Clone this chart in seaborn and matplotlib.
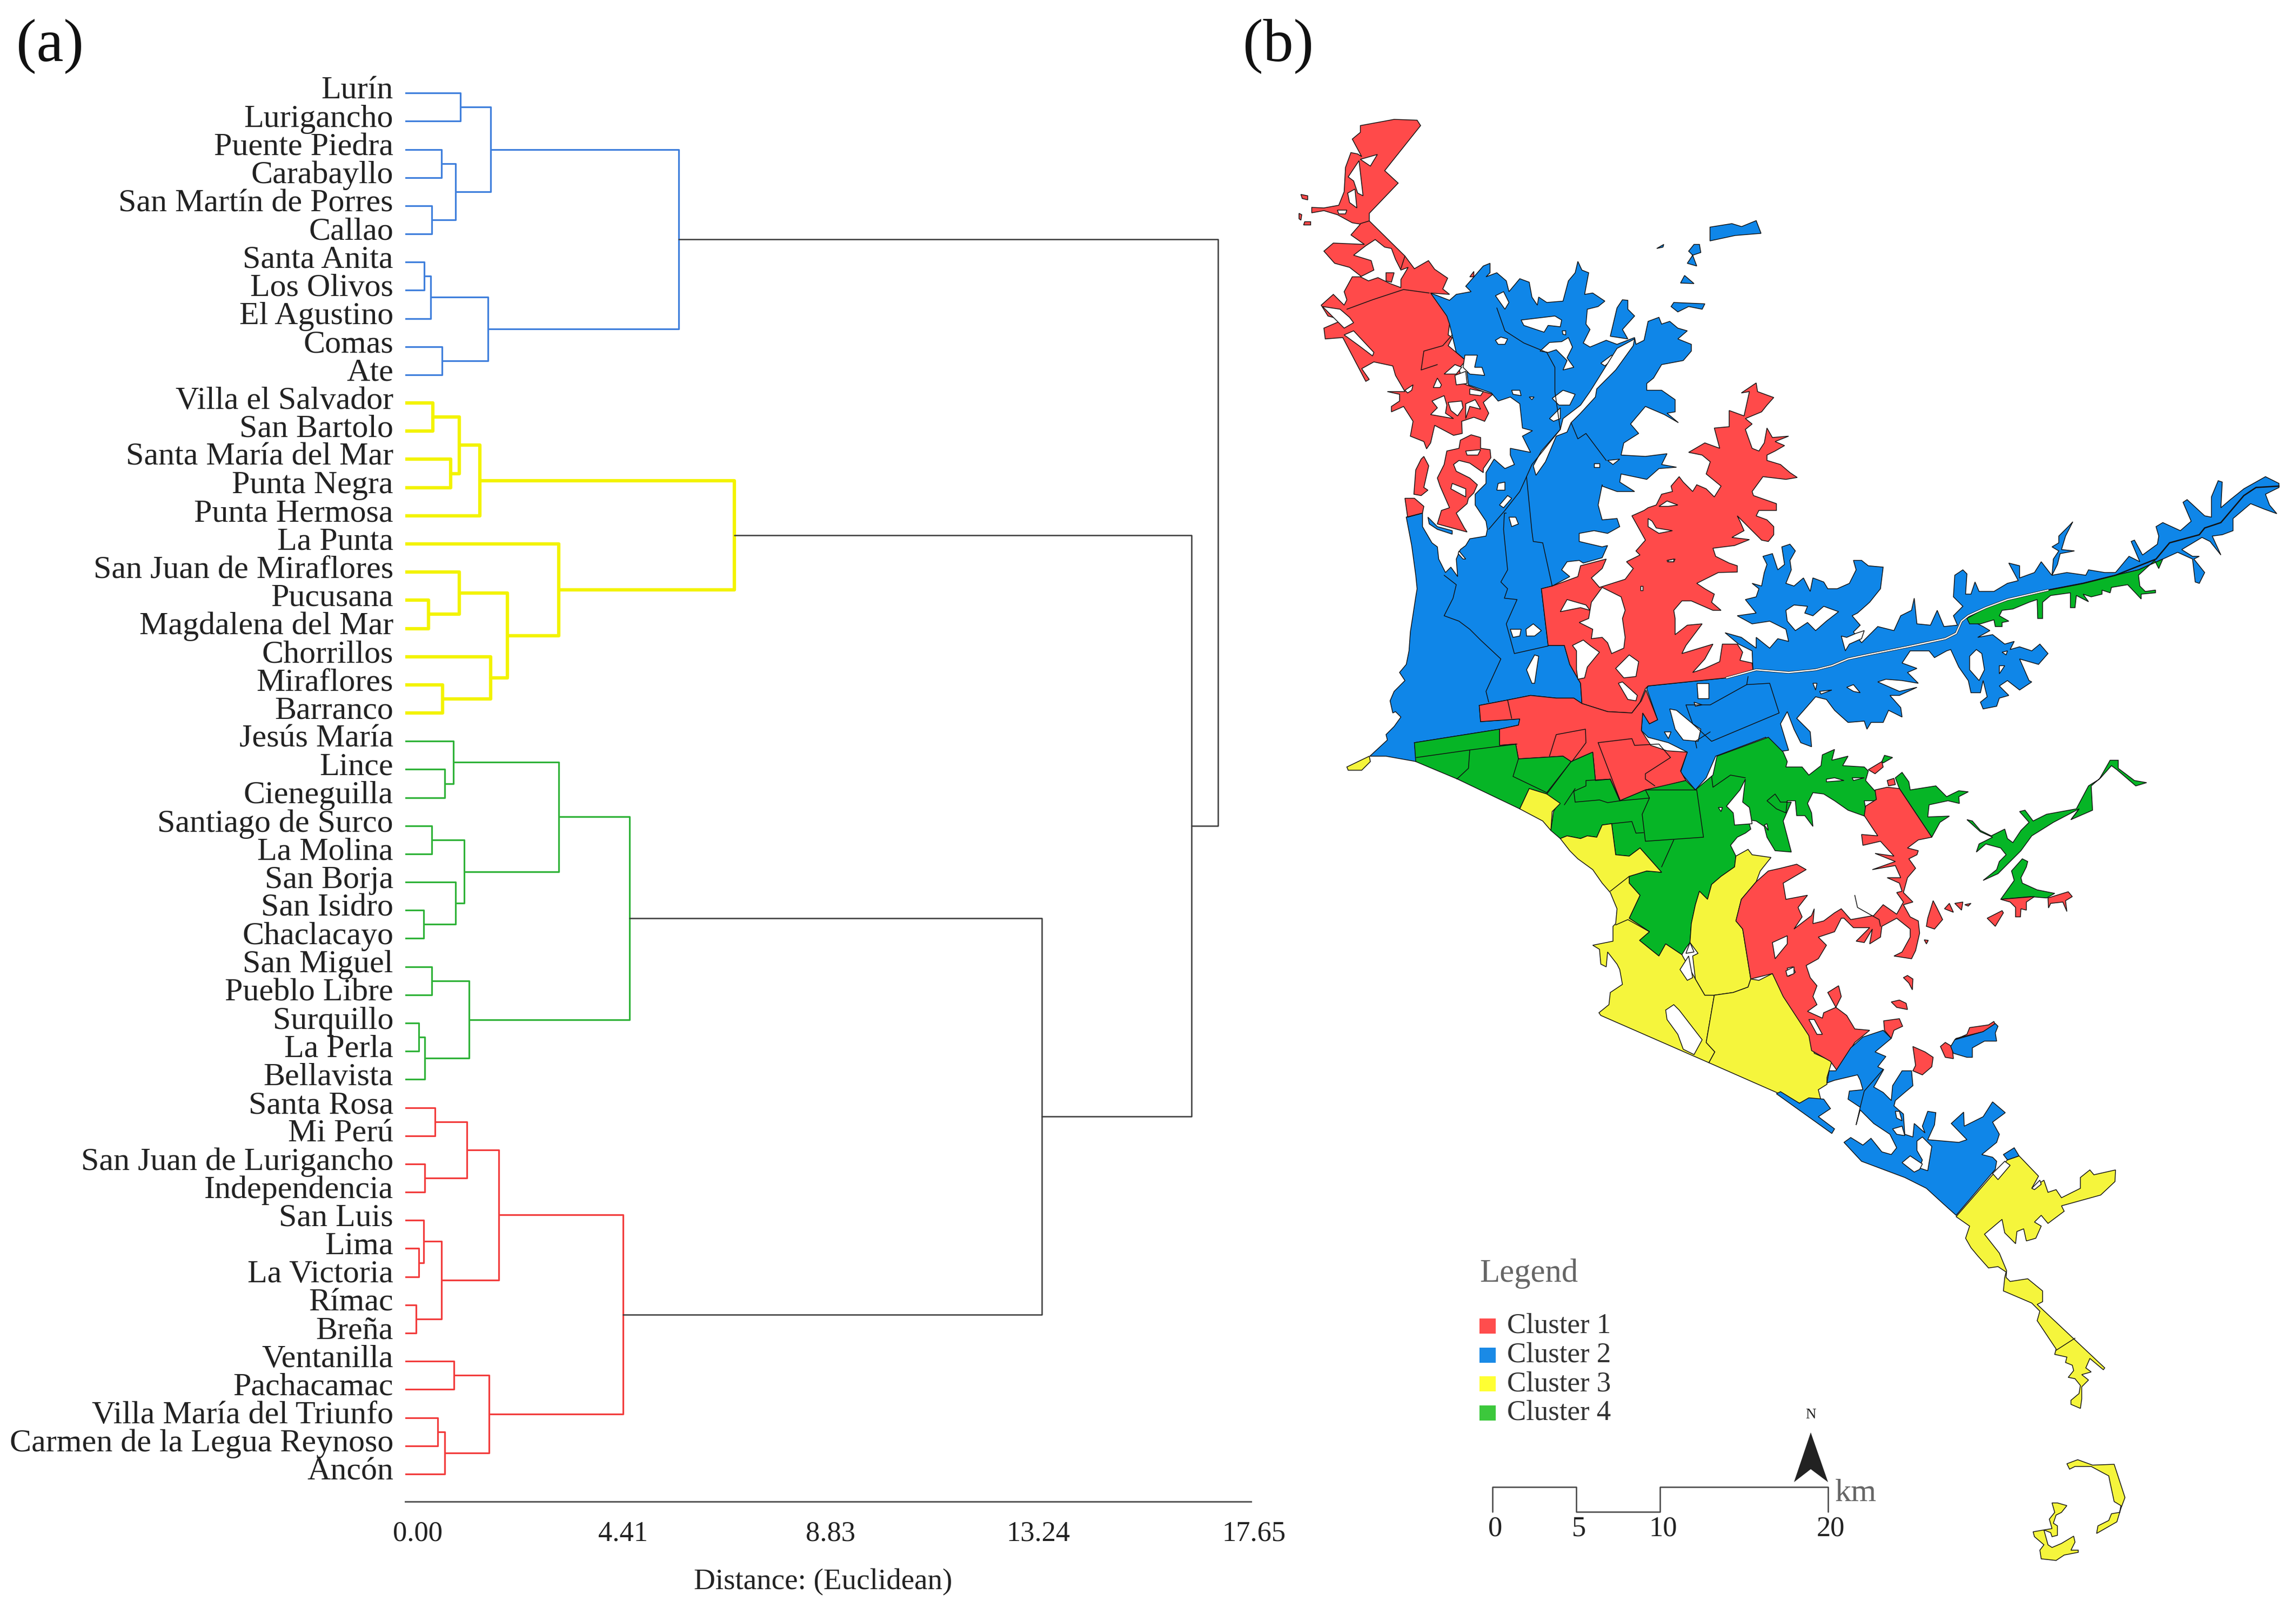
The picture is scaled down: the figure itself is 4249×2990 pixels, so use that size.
import matplotlib
matplotlib.use("Agg")
import matplotlib.pyplot as plt
import matplotlib.transforms as mtrans
import pandas as pd
import seaborn as sns

# ── dendrogram : (merge distance, left, right), leaves are district names
BLUE_TREE = (5.71,
    (1.78, (1.15, "Lurín", "Lurigancho"),
           (1.05, (0.75, "Puente Piedra", "Carabayllo"),
                  (0.55, "San Martín de Porres", "Callao"))),
    (1.73, (0.53, (0.40, "Santa Anita", "Los Olivos"), "El Agustino"),
           (0.77, "Comas", "Ate")))
YELLOW_TREE = (6.87,
    (1.56, (1.13, (0.58, "Villa el Salvador", "San Bartolo"),
                  (0.95, "Santa María del Mar", "Punta Negra")),
           "Punta Hermosa"),
    (3.20, "La Punta",
           (2.13, (1.13, "San Juan de Miraflores",
                         (0.48, "Pucusana", "Magdalena del Mar")),
                  (1.78, "Chorrillos", (0.78, "Miraflores", "Barranco")))))
GREEN_TREE = (4.68,
    (3.20, (1.00, "Jesús María", (0.82, "Lince", "Cieneguilla")),
           (1.23, (0.55, "Santiago de Surco", "La Molina"),
                  (1.05, "San Borja", (0.38, "San Isidro", "Chaclacayo")))),
    (1.33, (0.55, "San Miguel", "Pueblo Libre"),
           (0.41, (0.28, "Surquillo", "La Perla"), "Bellavista")))
RED_TREE = (4.54,
    (1.95, (1.29, (0.62, "Santa Rosa", "Mi Perú"),
                  (0.41, "San Juan de Lurigancho", "Independencia")),
           (0.75, (0.38, "San Luis", (0.28, "Lima", "La Victoria")),
                  (0.23, "Rímac", "Breña"))),
    (1.75, (1.01, "Ventanilla", "Pachacamac"),
           (0.82, (0.68, "Villa María del Triunfo", "Carmen de la Legua Reynoso"),
                  "Ancón")))
TOP_HEIGHTS = [16.96, 16.41, 13.29]

DIST_TICKS = [0.00, 4.41, 8.83, 13.24, 17.65]
TICK_SHIFT = [23, 12, 4, -3, 5]

TREE_COLORS = {"blue": "#3f7fdc", "yellow": "#f3f300", "green": "#2fb238",
               "red": "#f23c3c", "top": "#3a3a3a"}
TREE_WIDTHS = {"blue": 0.75, "yellow": 1.5, "green": 0.75, "red": 0.75, "top": 0.6}

C_RED, C_BLUE, C_YEL, C_GRE = "#ff4a4a", "#0f86e8", "#f5f53c", "#06b526"

LEGEND_LABELS = ["Cluster 1", "Cluster 2", "Cluster 3", "Cluster 4"]
LEGEND_SWATCH = ["#ff4d4d", "#1a8ae6", "#ffff33", "#3cc83c"]
SCALE_KM = [0, 5, 10, 20]

FIG_W, FIG_H = 4249, 2990
DPI = 300


def on(dx, dy):
    # planche de numérisation -> grille commune
    return lambda pts: [(x + dx, y + dy) for x, y in pts]


A, B, C, D = on(0, 0), on(0, 1360), on(1300, 1000), on(2130, 1240)
E, F, G, H = on(700, 2300), on(1800, 2300), on(1200, 3300), on(2130, 3900)

BLUE_MAIN = A([(495,685),(565,712),(590,690),(645,680),(625,660),(690,585),(715,575),(715,610),(700,625),(740,610),(775,640),(785,680),(825,632),(860,645),(870,700),(890,730),(895,700),(925,720),(985,715),(1005,640),(1030,610),(1040,568),(1055,600),(1080,610),(1065,690),(1095,685),(1140,715),(1115,735),(1075,745),(1070,800),(1085,820),(1060,870),(1085,885),(1145,860),(1185,875),(1250,850),(1255,875),(1285,860),(1300,790),(1340,775),(1350,800),(1380,790),(1410,815),(1445,825),(1410,855),(1460,875),(1460,900),(1430,935),(1350,950),(1320,1000),(1295,1020),(1295,1045),(1350,1045),(1400,1080),(1400,1125),(1370,1130),(1412,1165),(1360,1135),(1290,1105),(1235,1170),(1265,1205),(1210,1240),(1200,1285),(1290,1290),(1370,1280),(1350,1320),(1405,1330),(1340,1335),(1295,1375),(1200,1355),(1195,1385),(1250,1420),(1185,1420),(1130,1400)]) \
    + B([(1130,35),(1115,110),(1130,165),(1185,160),(1195,190),(1150,215),(1100,205),(1045,215),(1045,245),(1130,265),(1150,260),(1130,305),(1060,325),(1045,315),(1000,320),(980,350),(1010,375),(945,410),(905,420),(930,630),(990,630),(1010,700),(1050,770),(1055,845),(1025,825),(960,825),(865,815),(780,832),(675,852),(680,912),(825,902),(820,925),(750,940),(435,990),(442,1060),(330,1040),(270,1040),(335,980),(330,960),(360,930),(385,895),(365,875),(355,880),(345,835),(360,800),(400,760),(380,730),(405,700),(415,650),(420,580),(440,450),(445,420),(440,370),(425,260),(405,155),(465,140),(465,190),(500,250),(520,265),(525,310),(550,360),(570,340),(595,375),(590,310),(605,275),(625,260),(640,235),(700,225),(705,200),(700,170)]) \
    + A([(660,1470),(660,1430),(700,1390),(700,1350),(730,1300),(770,1335),(805,1320),(790,1285),(790,1260),(865,1275),(835,1215),(872,1195),(835,1185),(825,1095),(790,1070),(745,1085),(720,1055),(635,1025),(625,935),(590,905),(565,800)])
BLUE_EAST = C([(388,1080),(385,1010),(335,985),(285,943),(345,960),(400,1000),(400,960),(450,1000),(480,965),(520,975),(510,930),(450,900),(385,910),(330,880),(400,870),(360,820),(400,810),(410,780),(385,760),(420,770),(430,720),(440,690),(425,660),(460,650),(480,710),(505,690),(495,625),(525,615),(545,640),(525,675),(530,710),(510,760),(540,770),(575,740),(600,790),(610,740),(650,755),(665,780),(700,780),(745,760),(770,710),(760,675),(790,675),(815,695),(870,700),(860,780),(820,830),(775,870),(755,880),(785,915),(760,940),(790,980),(850,920),(910,935),(935,880),(975,860),(985,815),(995,910),(1045,915),(1070,860),(1095,920),(1145,915),(1130,880),(1165,845),(1130,810),(1135,730),(1165,710),(1180,725),(1175,800),(1195,800),(1210,755),(1225,790),(1280,790),(1330,760),(1370,750),(1335,685),(1375,695),(1375,740),(1430,720),(1455,680),(1490,725)]) \
    + D([(665,490),(670,430),(690,400),(665,385),(690,370),(690,345),(725,310),(742,292),(715,345),(700,395),(748,400),(695,410),(685,450),(665,490),(720,480),(790,490),(800,470),(860,480),(900,480),(950,420),(990,440),(958,365),(970,360),(1000,415),(1055,375),(1060,345),(1050,310),(1075,295),(1140,325),(1180,290),(1150,220),(1165,210),(1230,270),(1255,275),(1255,200),(1280,140),(1295,145),(1290,240),(1325,210),(1375,170),(1455,125),(1505,150),(1505,165),(1455,190),(1470,230),(1497,262),(1450,245),(1400,225),(1335,280),(1335,325),(1295,340),(1258,345),(1290,415),(1250,365),(1220,350),(1145,395),(1185,420),(1210,420),(1190,430),(1230,480),(1210,520),(1195,515),(1185,430),(1130,405),(1075,430),(985,470),(900,490),(780,520),(650,545),(500,580),(420,610),(350,650),(410,680),(435,695),(390,720),(445,710),(490,745),(525,735),(510,765),(545,755),(590,770),(620,745),(650,780),(615,820),(545,800),(580,880),(590,885),(545,915),(500,880),(470,900),(505,935),(470,945),(460,975),(410,985),(400,960),(425,940),(410,880),(400,925),(365,925),(355,880),(320,830),(290,765),(275,770),(230,795),(210,770),(140,770),(110,815),(165,835),(130,850),(170,890),(110,880),(50,875),(20,885),(100,920),(165,905),(100,935),(65,935),(105,980),(110,1015),(60,990),(40,1035)]) \
    + C([(825,1275),(810,1300),(800,1270),(740,1275),(690,1230),(660,1190),(620,1180),(550,1260),(600,1310),(605,1365),(565,1350),(540,1300),(515,1235),(490,1280),(520,1378),(470,1385),(435,1330),(250,1400),(215,1480),(175,1525),(120,1460),(145,1385),(75,1350),(0,1330)]) \
    + B([(1275,945),(1280,880),(1305,920),(1335,905),(1295,790)]) + C([(0,1140),(290,1110)])
BLUE_BITS = [
    A([(1185,740),(1205,710),(1225,712),(1225,745),(1250,770),(1205,820),(1225,855),(1160,845)]),
    B([(485,155),(520,190),(575,205),(575,218),(520,200),(490,180)]),
    A([(1529,441),(1610,428),(1646,439),(1700,417),(1718,464),(1622,472),(1529,492)]),
    A([(1332,520),(1358,505),(1355,515)]),
    A([(1470,505),(1490,505),(1495,535),(1465,545),(1480,585),(1445,575),(1465,545),(1450,530)]),
    A([(1420,648),(1435,620),(1470,650)]),
    A([(1385,735),(1395,720),(1510,725),(1500,745),(1450,735),(1410,755)]),
]
BLUE_SOUTH = G([(762,310),(770,265),(795,265),(850,180),(895,140),(970,115),(1000,145),(940,195),(980,212),(950,250),(972,260),(935,325),(970,345),(1000,375),(1005,320),(1040,265),(1075,265),(1080,320),(1050,345),(1015,375),(1010,395),(1045,425),(1050,500),(1080,510),(1085,460),(1125,495),(1115,470),(1135,415),(1165,420),(1160,465),(1135,520),(1250,530),(1280,520),(1222,460),(1268,418),(1270,470),(1340,435),(1375,380),(1422,420),(1375,455),(1400,500),(1390,530),(1335,575),(1375,585),(1390,600),(1385,630),(1240,800),(1190,755),(1130,700),(1050,660),(890,600),(825,530),(850,512),(895,540),(925,515),(965,565),(1000,575),(1020,550),(995,500),(935,460),(885,410),(870,465),(885,400),(840,370),(845,340),(895,335),(885,300),(875,280),(790,300)])
BLUE_STRIP = G([(575,350),(590,342),(660,385),(695,365),(750,370),(775,405),(730,435),(790,480),(780,497)])
BLUE_SMALL = G([(1415,575),(1455,550),(1473,580),(1430,595)])
BLUE_PATCH = F([(620,1175),(635,1150),(740,1120),(785,1090),(795,1100),(785,1125),(790,1155),(745,1155),(700,1180),(700,1215),(680,1215),(630,1200)])

RED_NORTH = A([(235,65),(360,42),(445,45),(458,65),(325,232),(375,278),(268,390),(268,418),(400,548),(435,595),(487,565),(510,597),(558,630),(540,670),(565,690),(495,685),(555,770),(565,800),(560,840),(575,850),(560,880),(590,905),(625,935),(600,965),(615,1020),(690,1050),(725,1060),(690,1090),(710,1130),(695,1160),(655,1145),(610,1160),(612,1205),(580,1212),(510,1175),(495,1240),(480,1262),(470,1235),(420,1215),(430,1160),(395,1105),(350,1125),(350,1105),(380,1085),(380,1060),(335,1050),(400,1050),(365,990),(355,955),(285,940),(240,965),(268,1005),(255,1012),(170,850),(105,855),(100,815),(170,785),(115,770),(90,730),(135,690),(175,730),(185,710),(175,680),(205,625),(240,625),(195,590),(140,575),(100,530),(135,500),(250,505),(200,470),(235,430),(205,425),(150,395),(100,380),(55,388),(55,368),(100,370),(155,360),(175,310),(180,220),(200,165),(225,170),(240,180),(205,115),(235,90)])
RED_ISLET = A([(330,610),(360,610),(350,645),(330,640)])
RED_L1 = A([(460,1300),(470,1290),(488,1325),(470,1405),(485,1415),(460,1435),(433,1430),(440,1340)])
RED_L2 = A([(555,1270),(600,1260),(605,1230),(645,1210),(680,1220),(680,1260),(715,1265),(718,1295),(690,1335),(690,1350),(640,1315),(600,1305),(580,1320),(590,1345),(640,1370),(668,1395),(655,1425),(635,1445),(630,1465),(590,1500),(620,1555),(630,1570),(520,1540),(535,1490),(565,1480),(530,1400),(520,1370),(545,1320)])
RED_TIP = B([(400,85),(435,85),(470,115),(465,140),(410,155)])
RED_CENTER = C([(0,480),(30,470),(50,430),(90,420),(85,400),(115,365),(130,385),(165,420),(180,395),(215,410),(245,440),(270,400),(215,355),(230,310),(200,285),(150,275),(210,240),(265,260),(245,185),(300,180),(300,120),(355,140),(375,50),(345,55),(400,18),(405,50),(465,72),(440,100),(420,125),(360,150),(385,170),(360,190),(385,260),(410,270),(430,240),(440,185),(460,220),(520,215),(470,235),(505,250),(470,270),(440,285),(440,305),(490,320),(525,350),(552,368),(510,375),(425,365),(385,420),(390,435),(475,465),(475,490),(410,490),(400,510),(440,525),(465,550),(465,580),(445,605),(420,600),(400,580),(330,510),(340,530),(355,565),(310,590),(375,598),(320,620),(240,630),(250,660),(300,685),(330,695),(330,718),(260,720),(180,760),(210,780),(245,800),(235,830),(270,860),(240,860),(160,825),(125,825),(95,860),(100,890),(100,950),(145,915),(200,910),(140,990),(125,1020),(240,985),(210,1040),(165,1090),(210,1075),(265,1050),(275,985),(330,985),(350,1015),(340,1045),(385,1055),(388,1080),(290,1110),(0,1140)]) \
    + B([(1290,790),(1270,840),(1240,880),(1150,875),(1055,845),(1050,770),(1010,700),(990,630),(930,630),(905,420),(945,410),(1040,375),(1050,335),(1145,310),(1130,345),(1090,380),(1120,415),(1215,385),(1245,345),(1220,320),(1270,295),(1255,280),(1290,240),(1240,150),(1285,130)])
RED_BELT = B([(675,852),(780,832),(865,815),(960,825),(1025,825),(1055,845),(1150,875),(1240,880),(1275,835),(1292,795),(1335,905),(1305,920),(1280,880),(1275,945),(1310,1000),(1370,1020),(1445,1025),(1420,1095),(1440,1130),(1330,1158),(1290,1165),(1195,1205),(1160,1125),(1105,1130),(1095,1025),(1015,1060),(985,1040),(820,1050),(810,995),(750,1000),(750,940),(820,925),(825,902),(680,912)])
RED_SE = E([(980,925),(950,740),(925,710),(945,630),(1000,565),(1045,525),(1090,515),(1150,500),(1185,520),(1100,570),(1110,630),(1190,615),(1155,660),(1170,695),(1140,740),(1205,690),(1215,665),(1210,720),(1250,710),(1290,680),(1315,665)]) \
    + F([(250,705),(335,690),(370,650),(420,685),(445,640),(420,605),(440,600),(430,570),(385,550),(435,550),(415,505),(330,520),(415,490),(340,460),(410,470),(360,415),(295,430),(290,390),(350,395),(300,320),(305,285),(345,260),(340,225),(385,215),(430,220),(550,400),(500,410),(460,440),(500,450),(495,465),(465,480),(490,515),(460,550),(445,605),(480,640),(445,650),(470,695),(500,710),(505,755),(490,820),(475,850),(410,840),(440,825),(470,770),(470,740),(420,700),(365,730),(360,770),(320,795),(330,740),(300,790),(270,785),(320,735),(260,735),(225,700),(215,700),(190,750),(130,770),(160,800),(130,850),(85,875),(100,920),(125,950),(110,990),(125,1020),(90,1045),(145,1070),(150,1050),(195,1030),(165,975),(205,950),(215,990),(195,1030),(235,1060),(265,1110),(320,1115),(265,1160),(200,1265),(175,1230),(105,1190),(95,1135),(0,990),(-40,905)])
RED_BITS = [
    E([(1415,150),(1465,120),(1470,140),(1440,165)]),
    F([(385,190),(410,182),(415,205),(390,210)]),
    F([(805,630),(930,620),(900,640),(900,670),(880,665),(878,695),(860,695),(860,660),(840,640)]),
    F([(980,625),(1055,602),(1070,620),(1045,635),(1050,675),(1035,640),(990,645),(982,662)]),
    F([(755,700),(810,672),(815,680),(785,730)]),
    F([(555,635),(568,660),(590,705),(560,740),(530,730),(535,700)]),
    F([(597,665),(615,645),(630,678)]),
    F([(635,645),(665,640),(660,670)]),
    F([(672,650),(695,645),(685,655)]),
    F([(445,920),(460,912),(480,925),(478,965),(465,940)]),
    F([(400,1010),(430,1003),(455,1015),(460,1038),(420,1030)]),
    F([(522,780),(537,782),(530,795)]),
    F([(372,1080),(430,1072),(442,1100),(410,1115),(400,1145),(375,1115)]),
    F([(480,1175),(525,1195),(555,1215),(550,1250),(515,1280),(480,1265),(490,1245)]),
    F([(582,1175),(600,1160),(625,1175),(630,1220),(600,1215)]),
    F([(635,1150),(680,1130),(690,1105),(760,1095),(780,1082),(785,1095),(740,1120),(640,1145)]),
    A([(15,320),(40,325),(40,340),(20,335)]),
    A([(8,390),(18,395),(15,415),(8,410)]),
    A([(28,420),(50,420),(50,432),(25,432)]),
    A([(640,625),(655,605),(655,625)]),
]

GREEN_MAIN = B([(435,990),(750,940),(750,1000),(810,995),(820,1050),(985,1040),(1015,1060),(1095,1025),(1105,1130),(1160,1125),(1195,1205),(1290,1165),(1440,1130),(1475,1165)]) \
    + E([(840,170),(855,100),(1045,30),(1100,85),(1115,120),(1110,140),(1170,140),(1195,170),(1240,135),(1245,95),(1290,75),(1280,115),(1340,100),(1320,135),(1400,140),(1415,155),(1405,190),(1445,235),(1445,265),(1400,265),(1410,325),(1340,300),(1290,265),(1250,240),(1210,235),(1190,275),(1205,310),(1210,360),(1180,320),(1150,320),(1145,265),(1115,265),(1110,310),(1075,295),(1040,265),(1070,240),(1090,270),(1130,270),(1100,340),(1130,455),(1070,450),(1040,400),(1030,360),(1000,340),(970,335),(980,370),(960,385),(930,400),(905,430),(925,470),(920,510),(870,545),(835,575),(820,630),(790,600),(775,650),(760,720),(755,790),(740,810),(725,835),(665,795),(640,840),(568,782),(605,750),(530,700),(570,615),(530,570),(530,545),(595,525),(650,530),(570,440),(530,470),(480,465),(465,350),(430,355),(410,400),(375,395),(350,405),(300,395),(275,405),(240,375),(250,305),(265,280),(225,240),(160,220),(125,295)]) \
    + B([(595,1125),(440,1060)])
GREEN_TIP = E([(1465,120),(1475,97),(1505,105),(1470,125)])
GREEN_STRIP = D([(350,650),(420,610),(500,580),(650,545),(780,520),(900,490),(985,470),(1075,430),(1060,465),(1045,435),(985,490),(990,530),(1010,550),(1048,545),(1048,555),(995,560),(995,578),(945,525),(885,535),(880,555),(850,545),(850,560),(810,570),(780,560),(800,588),(755,565),(750,610),(733,610),(733,555),(660,565),(630,590),(630,650),(612,650),(610,580),(580,590),(520,615),(480,620),(470,640),(505,660),(480,665),(480,680),(455,680),(450,655),(400,670),(360,670)])
GREEN_EAST = F([(430,220),(415,180),(440,160),(465,195),(470,225),(565,210),(605,250),(625,240),(650,228),(685,232),(650,250),(652,275),(610,265),(540,280),(535,325),(615,322),(580,345),(550,400)])
GREEN_FAR = F([(680,335),(700,340),(730,375),(770,395),(820,370),(830,405),(850,420),(880,375),(910,345),(875,305),(895,300),(925,340),(975,315),(1085,295),(1130,210),(1170,185),(1210,115),(1240,115),(1240,145),(1300,190),(1345,198),(1305,210),(1235,150),(1215,135),(1175,180),(1140,210),(1145,300),(1065,335),(1095,295),(1000,345),(920,395),(880,450),(795,535),(740,560),(790,520),(800,490),(825,465),(805,440),(750,425),(715,455),(725,425),(775,400),(730,380)])
GREEN_LOW = F([(805,630),(855,560),(845,525),(885,480),(905,490),(900,510),(880,550),(885,570),(940,595),(1005,608),(975,625),(915,620)])

YEL_NORTH = E([(160,220),(225,240),(275,275),(245,305),(240,375),(210,340),(125,295)])
YEL_MAIN = E([(275,405),(300,395),(350,405),(375,395),(410,400),(430,355),(465,350),(480,465),(530,470),(570,440),(650,530),(595,525),(530,545),(530,570),(570,615),(530,700),(605,750),(568,782),(640,840),(665,795),(725,835),(775,925),(810,985),(845,985),(815,1160),(847,1195),(825,1235),(425,1060),(418,1050),(455,1020),(460,975),(505,945),(495,890),(485,870),(450,825),(445,880),(425,870),(420,815),(395,800),(470,785),(470,730),(480,720),(485,665),(460,605),(430,570),(395,520),(340,480),(310,450)])
YEL_INNER = E([(925,470),(970,445),(985,465),(1055,475),(1015,525),(1000,565),(945,630),(925,710),(950,740),(980,925),(970,955),(915,975),(845,985),(810,985),(775,925),(765,840),(785,830),(755,790),(760,720),(775,650),(790,600),(820,630),(835,575),(870,545),(920,510)])
YEL_BLOCK = E([(1060,905),(1195,1120),(1215,1200),(1280,1230),(1262,1290),(1262,1315),(1230,1335),(1240,1375),(1160,1385),(1075,1345),(825,1235),(847,1195),(815,1160),(845,985),(915,975),(970,955),(980,925),(1010,930)])
YEL_SOUTH = H([(310,205),(445,50),(500,-5),(543,-20),(615,55),(590,100),(635,70),(650,115),(680,105),(700,135),(770,100),(770,60),(805,32),(820,50),(900,32),(898,75),(845,125),(700,165),(710,185),(650,230),(625,200),(600,225),(625,240),(605,285),(570,295),(560,250),(535,260),(530,305),(490,265),(480,215),(415,270),(470,340),(497,405),(495,430),(510,445),(575,435),(630,480),(630,520),(610,530),(860,765),(855,772),(805,730),(790,765),(810,780),(775,790),(800,810),(775,835),(775,880),(770,915),(735,900),(735,885),(765,860),(770,830),(750,805),(725,800),(745,775),(740,755),(715,745),(720,725),(675,715),(680,695),(610,590),(620,555),(590,525),(485,480),(490,430),(495,410),(465,390),(430,395),(390,350),(365,320),(345,285),(360,240)])
YEL_ISLE_A = H([(720,1120),(760,1105),(815,1125),(895,1122),(935,1245),(920,1285),(905,1335),(830,1378),(835,1350),(875,1330),(885,1305),(915,1300),(920,1275),(895,1260),(880,1190),(875,1165),(810,1130),(750,1130),(730,1140)])
YEL_ISLE_B = H([(665,1265),(685,1265),(720,1275),(700,1300),(680,1310),(670,1340),(685,1350),(685,1385),(665,1390),(660,1375),(635,1365),(650,1420),(665,1430),(700,1415),(745,1388),(750,1410),(735,1440),(762,1440),(762,1448),(710,1458),(680,1478),(625,1472),(620,1440),(635,1420),(600,1390),(595,1372),(635,1365),(665,1360),(655,1325),(675,1300)])
YEL_TIP = B([(185,1080),(268,1040),(272,1060),(240,1092),(190,1092)])

HOLES = [
    # nord-ouest
    A([(190,255),(230,195),(245,325),(225,315),(210,270)]), A([(188,315),(215,300),(222,370),(195,350)]),
    A([(235,190),(298,172),(272,215)]), A([(150,378),(185,378),(180,392),(155,392)]),
    A([(290,487),(325,515),(350,520),(365,560),(385,600),(412,590),(385,635),(385,665),(345,650),(300,628),(265,640),(235,625),(285,600),(275,565),(210,545),(255,510)]),
    A([(95,735),(160,745),(195,775),(210,795),(175,815),(150,790)]), A([(175,840),(210,825),(285,905),(280,918),(230,880)]),
    A([(505,1035),(520,1000),(535,1025),(530,1035)]), A([(545,985),(585,950),(610,960),(590,985)]),
    A([(622,915),(668,915),(658,960),(685,960),(695,990),(640,985),(615,960)]), A([(585,990),(625,975),(630,1020),(590,1025)]),
    A([(500,1085),(545,1065),(555,1100),(550,1130),(580,1150),(495,1135),(520,1110)]), A([(560,1090),(610,1085),(615,1110),(595,1140),(570,1120)]),
    A([(625,1095),(660,1080),(680,1115),(640,1105),(625,1150)]), A([(400,1045),(430,1025),(425,1045),(410,1055)]),
    A([(640,1040),(690,1050),(680,1065),(640,1060)]), A([(575,1390),(625,1410),(625,1440),(570,1410)]), A([(625,1270),(680,1265),(670,1285),(630,1285)]),
    # bleu ouest
    A([(830,785),(955,770),(980,785),(975,810),(930,805),(915,830),(840,805)]), A([(735,860),(755,848),(780,855),(770,875),(745,875)]),
    A([(900,900),(935,868),(980,865),(1005,850),(1020,885),(1000,925),(1025,960),(985,970),(1000,935),(960,895),(930,905)]),
    A([(982,825),(995,825),(995,840),(985,838)]), A([(945,1075),(985,1045),(1030,1060),(1010,1100),(970,1100)]),
    A([(795,1045),(825,1045),(830,1065),(800,1060)]), A([(860,1070),(878,1070),(870,1080)]),
    A([(1125,945),(1165,915),(1175,925),(1140,955)]), A([(935,1150),(975,1110),(975,1150),(950,1160)]),
    A([(1100,1315),(1120,1315),(1120,1330),(1100,1330)]), A([(1150,1305),(1195,1300),(1170,1320)]),
    A([(735,695),(765,680),(785,720),(770,745)]), A([(745,1390),(770,1385),(770,1415),(740,1415)]),
    A([(1250,855),(1245,880),(1180,970),(1110,1040),(1105,1070),(1050,1130),(1015,1165),(1000,1200),(960,1215),(920,1310),(885,1360),(875,1325),(905,1270),(975,1190),(985,1150),(1050,1100),(1085,1050),(1110,1010),(1185,890)]),
    B([(785,155),(810,155),(820,180),(795,190)]), B([(750,110),(780,75),(795,85),(765,120)]),
    B([(790,570),(830,570),(825,595),(800,600)]), B([(848,570),(875,550),(905,575),(880,595),(850,595)]),
    B([(880,665),(895,670),(880,770),(870,770),(850,720)]), B([(600,280),(625,310),(615,310),(597,290)]),
    # rouge centre
    C([(40,475),(70,455),(110,470),(75,475)]), C([(0,520),(15,530),(30,555),(90,565),(40,575),(0,550)]), C([(70,675),(100,670),(95,680),(72,680)]),
    B([(975,505),(1000,460),(1070,480),(1085,500),(1050,490),(1000,500)]),
    B([(1045,545),(1080,530),(1090,470),(1130,415),(1200,450),(1215,500),(1205,530),(1215,600),(1210,640),(1165,660),(1150,620),(1130,600),(1090,605),(1095,570)]),
    B([(1020,630),(1060,610),(1085,630),(1120,655),(1075,710),(1065,750),(1040,755),(1035,720),(1035,650)]),
    B([(1180,715),(1230,665),(1265,690),(1255,745),(1210,750)]), B([(1190,770),(1205,765),(1260,815),(1255,835),(1225,830)]),
    B([(1375,315),(1395,310),(1395,320),(1375,320)]), B([(1272,410),(1280,410),(1280,425),(1272,425)]),
    # bleu est
    C([(510,860),(540,840),(590,845),(580,870),(610,880),(650,845),(705,865),(660,900),(620,935),(590,905),(545,935),(515,900)]),
    C([(715,955),(735,960),(770,945),(800,935),(790,965),(745,985),(730,1010)]), C([(735,1145),(760,1135),(785,1165),(760,1160)]),
    C([(610,1130),(625,1130),(620,1155)]), C([(635,1160),(680,1155),(640,1170)]),
    D([(360,790),(385,765),(405,780),(415,840),(395,880),(360,840)]), D([(470,825),(490,825),(470,855)]), D([(480,775),(500,770),(495,785)]),
    C([(180,1130),(225,1130),(225,1185),(185,1185)]), C([(170,1200),(200,1210),(175,1215)]),
    C([(80,1225),(105,1230),(165,1280),(195,1300),(185,1345),(130,1340),(100,1300)]), C([(60,1310),(85,1310),(75,1335)]),
    # vert
    E([(890,285),(940,225),(960,185),(950,270),(975,290),(985,350),(920,355),(915,310)]),
    E([(1260,185),(1290,180),(1325,190),(1260,195)]), E([(1355,180),(1400,180),(1360,190)]), E([(860,290),(875,290),(870,305)]),
    E([(1030,355),(1040,350),(1045,375)]),
    # sud
    F([(15,885),(35,880),(45,900),(20,915)]), F([(95,1075),(115,1075),(145,1130),(125,1130)]),
    E([(1060,790),(1115,765),(1115,795),(1070,850)]), E([(1110,895),(1140,880),(1140,905),(1115,915)]),
    E([(665,1040),(695,1020),(715,1040),(800,1150),(770,1205),(730,1185),(710,1130),(670,1075)]),
    E([(718,890),(750,840),(765,920),(745,930)]), E([(740,830),(755,790),(770,825)]),
    G([(1095,525),(1115,510),(1150,545),(1135,635),(1105,625),(1115,595),(1095,560)]), G([(1040,605),(1070,580),(1115,610),(1105,630),(1085,640)]),
    G([(1005,480),(1040,470),(1050,505),(1020,500)]), G([(1015,415),(1030,415),(1040,450),(1020,440)]),
    H([(445,45),(490,0),(510,15),(465,68)]), H([(590,100),(620,70),(625,85),(600,105)]),
]

RIVER = C([(290,1110),(400,1080),(520,1090),(620,1080),(680,1065),(740,1040),(810,1025),(960,995),(1100,965),(1140,945),(1160,900),(1185,880)]) + D([(420,610),(500,580),(650,545)])
RIVER_DARK = D([(650,545),(780,520),(900,490),(1050,430),(1100,370),(1210,340),(1230,315),(1290,295),(1375,195),(1420,165),(1505,160)])
BORDERS = [
    A([(740,740),(770,825),(840,870),(925,905),(955,960),(955,1050),(975,1190),(870,1320),(850,1365),(825,1420),(770,1490),(710,1560)]),
    A([(1015,1165),(1040,1225),(1070,1205),(1145,1305)]),
    A([(850,1365),(870,1568)]) + B([(875,245),(910,250),(945,410)]),
    A([(775,1500),(768,1500)]) + B([(768,140),(765,200),(780,350),(755,395),(780,420),(768,455),(815,460),(775,550),(805,660),(930,632)]),
    B([(545,370),(590,405),(578,455),(545,520),(600,540),(640,570),(680,610),(755,680),(700,800),(710,840)]),
    A([(185,745),(280,710),(395,672),(490,685)]), A([(268,418),(235,428)]), A([(400,548),(385,595)]),
    A([(575,840),(540,880),(470,900),(460,970),(520,950)]),
    B([(405,155),(465,140)]), B([(780,832),(795,900)]),
    C([(370,1105),(365,1135),(230,1210),(140,1210),(165,1280),(235,1345),(485,1240),(450,1130),(365,1135)]),
    C([(230,1310),(175,1345),(180,1370)]),
    B([(442,1045),(640,1017),(815,995)]), B([(640,1017),(635,1085),(592,1125)]),
    B([(820,1050),(800,1115),(925,1175)]), B([(1015,1060),(925,1175)]),
    E([(225,240),(315,120)]), E([(290,280),(330,220)]),
    E([(330,270),(325,230),(370,210),(370,190),(460,185),(497,265)]),
    E([(590,225),(780,225),(805,400),(590,415),(578,315),(605,255),(590,225)]),
    E([(497,265),(605,255)]), E([(330,270),(420,262),(450,272),(497,265)]),
    E([(465,350),(540,342),(555,385),(583,383)]), E([(695,410),(650,510)]),
    E([(835,175),(840,215),(905,170),(960,180)]),
    E([(415,50),(540,35),(550,60),(640,55),(683,105),(590,165),(590,185),(625,210)]), E([(415,50),(497,265)]),
    E([(235,100),(260,20),(368,0),(370,50),(318,120)]),
    E([(460,600),(530,545)]), E([(480,725),(525,705),(605,750)]),
    F([(265,615),(275,660),(355,705),(360,730)]),
    F([(1065,335),(1095,295)]),
    G([(970,260),(900,340),(885,400)]),
    H([(680,700),(750,655)]),
]


def to_px(pts):
    return [(2400 + x / 2, 200 + y / 2) for x, y in pts]


def tree_links(tree, name, leaves, rows):
    """Parcourt l'arbre, renvoie (row, distance) du noeud et ajoute ses segments."""
    if isinstance(tree, str):
        leaves.append(tree)
        return float(len(leaves) - 1), 0.0
    height, left, right = tree
    y_l, h_l = tree_links(left, name, leaves, rows)
    y_r, h_r = tree_links(right, name, leaves, rows)
    link = len({r["link"] for r in rows})
    for d, y in [(h_l, y_l), (height, y_l), (height, y_r), (h_r, y_r)]:
        rows.append({"distance": d, "row": y, "link": link, "cluster": name})
    return (y_l + y_r) / 2, height


def add_link(rows, height, a, b):
    link = len({r["link"] for r in rows})
    for d, y in [(a[1], a[0]), (height, a[0]), (height, b[0]), (b[1], b[0])]:
        rows.append({"distance": d, "row": y, "link": link, "cluster": "top"})
    return (a[0] + b[0]) / 2, height


def draw_dendrogram(ax):
    leaves, rows = [], []
    blue = tree_links(BLUE_TREE, "blue", leaves, rows)
    yellow = tree_links(YELLOW_TREE, "yellow", leaves, rows)
    green = tree_links(GREEN_TREE, "green", leaves, rows)
    red = tree_links(RED_TREE, "red", leaves, rows)
    low = add_link(rows, TOP_HEIGHTS[2], green, red)
    mid = add_link(rows, TOP_HEIGHTS[1], yellow, low)
    add_link(rows, TOP_HEIGHTS[0], blue, mid)
    segments = pd.DataFrame(rows)

    for name, part in segments.groupby("cluster", sort=False):
        sns.lineplot(data=part, x="distance", y="row", units="link", estimator=None,
                     sort=False, color=TREE_COLORS[name], linewidth=TREE_WIDTHS[name],
                     legend=False, ax=ax)

    ax.set_xlim(DIST_TICKS[0], DIST_TICKS[-1])
    ax.set_ylim(49.98, -1)
    ax.set_yticks(range(len(leaves)))
    ax.set_yticklabels(leaves, fontsize=14.4, color="#222222")
    ax.tick_params(axis="y", length=0, pad=5.3)
    ax.set_xticks(DIST_TICKS)
    ax.set_xticklabels([f"{t:.2f}" for t in DIST_TICKS], fontsize=12.6, color="#222222")
    ax.tick_params(axis="x", length=4.5, width=0.6, color="#555555", pad=4)
    ax.set_ylabel("")
    ax.set_xlabel("Distance: (Euclidean)", fontsize=13.2, color="#222222", va="center")
    ax.xaxis.set_label_coords(0.4939, -0.056)
    sns.despine(ax=ax, left=True, top=True, right=True)
    ax.spines["bottom"].set_color("#555555")
    ax.spines["bottom"].set_linewidth(0.7)
    ax.patch.set_alpha(0)

    # labels un peu au-dessus des feuilles, comme sur l'original
    up = mtrans.ScaledTranslation(0, 10 / DPI, ax.figure.dpi_scale_trans)
    for lab in ax.get_yticklabels():
        lab.set_transform(lab.get_transform() + up)
    for lab, shift in zip(ax.get_xticklabels(), TICK_SHIFT):
        nudge = mtrans.ScaledTranslation(shift / DPI, 0, ax.figure.dpi_scale_trans)
        lab.set_transform(lab.get_transform() + nudge)


def poly(ax, pts, color, zorder=2):
    xs, ys = zip(*to_px(pts))
    ax.fill(xs, ys, facecolor=color, edgecolor="#111111", linewidth=0.35, zorder=zorder)


def polyline(ax, pts, color="#111111", lw=0.35, zorder=8):
    xs, ys = zip(*to_px(pts))
    ax.plot(xs, ys, color=color, linewidth=lw, zorder=zorder, solid_capstyle="round")


def draw_map(ax):
    ax.set_xlim(2330, FIG_W)
    ax.set_ylim(FIG_H, 0)
    ax.axis("off")

    for pts in [BLUE_MAIN, BLUE_EAST, *BLUE_BITS]:
        poly(ax, pts, C_BLUE, zorder=2)
    for pts in [RED_NORTH, RED_L1, RED_L2, RED_TIP, RED_CENTER, RED_BELT]:
        poly(ax, pts, C_RED, zorder=3)
    for pts in [GREEN_MAIN, GREEN_TIP, GREEN_STRIP, GREEN_EAST, GREEN_FAR, GREEN_LOW]:
        poly(ax, pts, C_GRE, zorder=4)
    for pts in [YEL_NORTH, YEL_MAIN, YEL_INNER, YEL_BLOCK, YEL_SOUTH, YEL_ISLE_A, YEL_ISLE_B, YEL_TIP]:
        poly(ax, pts, C_YEL, zorder=5)
    for pts in [RED_SE, *RED_BITS]:
        poly(ax, pts, C_RED, zorder=5)
    for pts in [BLUE_SOUTH, BLUE_STRIP, BLUE_SMALL, BLUE_PATCH]:
        poly(ax, pts, C_BLUE, zorder=5)
    for pts in HOLES:
        poly(ax, pts, "white", zorder=6)
    poly(ax, RED_ISLET, C_RED, zorder=7)

    polyline(ax, RIVER, lw=1.0)
    polyline(ax, RIVER, color="white", lw=0.6, zorder=9)
    polyline(ax, RIVER_DARK, lw=0.6)
    for pts in BORDERS:
        polyline(ax, pts)

    # légende
    ax.text(2738, 2358, "Legend", fontsize=14.6, color="#666666", va="center", ha="left")
    for i, (label, color) in enumerate(zip(LEGEND_LABELS, LEGEND_SWATCH)):
        sy = 2455 + i * 53.5
        ax.fill([2738, 2768, 2768, 2738], [sy - 14, sy - 14, sy + 14, sy + 14], color=color, linewidth=0)
        ax.text(2789, sy, label, fontsize=12.7, color="#333333", va="center", ha="left")

    # échelle
    px_per_km = 31.05
    base_x, top_y, low_y = 2762, 2753, 2799
    xs = [base_x + km * px_per_km for km in (0, 0, 5, 5, 10, 10, 20, 20)]
    ys = [low_y, top_y, top_y, low_y, low_y, top_y, top_y, low_y]
    ax.plot(xs, ys, color="#444444", linewidth=0.6)
    for km in SCALE_KM:
        ax.text(base_x + km * px_per_km + 5, 2830, str(km), fontsize=12.6, color="#222222", ha="center", va="center")
    ax.text(3396, 2765, "km", fontsize=14.5, color="#666666", ha="left", va="center")

    # nord
    ax.fill([3351, 3383, 3351, 3320], [2652, 2744, 2720, 2744], color="#222222", linewidth=0)
    ax.text(3351, 2620, "N", fontsize=6.5, color="#222222", ha="center", va="center")


def main():
    sns.set_theme(style="white")
    plt.rcParams["font.family"] = ["Liberation Serif", "DejaVu Serif"]

    fig = plt.figure(figsize=(FIG_W / DPI, FIG_H / DPI), dpi=DPI, facecolor="white")
    ax_map = fig.add_axes([2330 / FIG_W, 0, (FIG_W - 2330) / FIG_W, 1])
    draw_map(ax_map)

    ax_tree = fig.add_axes([750 / FIG_W, 1 - 2780 / FIG_H, 1565 / FIG_W, (2780 - 120) / FIG_H])
    draw_dendrogram(ax_tree)

    fig.text(30 / FIG_W, 1 - 85 / FIG_H, "(a)", fontsize=27, color="#111111", va="center")
    fig.text(2300 / FIG_W, 1 - 85 / FIG_H, "(b)", fontsize=27, color="#111111", va="center")

    fig.savefig("out.png", dpi=DPI)


if __name__ == "__main__":
    main()
